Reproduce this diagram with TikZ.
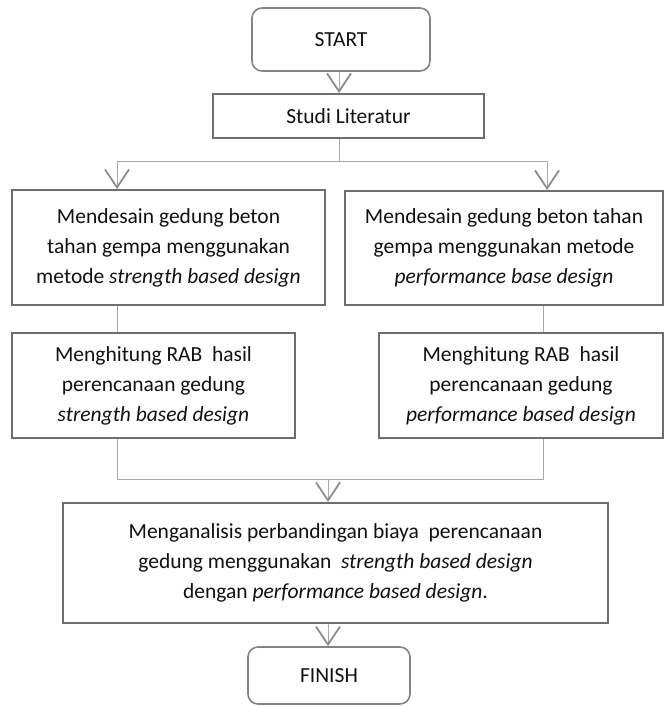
\documentclass[tikz,border=0pt]{standalone}
\usepackage{fontspec}
\setmainfont{Carlito}
\usetikzlibrary{arrows.meta}
\definecolor{boxline}{HTML}{6E6E6E}
\definecolor{conline}{HTML}{A8A8A8}
\definecolor{tipline}{HTML}{8C8C8C}
\definecolor{txt}{HTML}{111111}
\tikzset{
  box/.style={draw=boxline, line width=2pt, fill=white, inner sep=0pt, align=center,
    text=txt, font=\fontsize{21.5}{30}\selectfont},
  term/.style={box, draw=boxline!85, line width=1.6pt, rounded corners=10pt},
  conn/.style={draw=conline, line width=1pt},
  arr/.style={conn, -{Straight Barb[length=18pt,width=24pt,line width=1.8pt,color=tipline]}},
}
\begin{document}
\begin{tikzpicture}[x=1pt,y=-1pt]
\useasboundingbox (0,0) rectangle (666,706);
\node[term, minimum width=178pt, minimum height=63pt] (start) at (341,39.5) {START};
\node[box, minimum width=271pt, minimum height=44pt] (studi) at (348.5,116) {Studi Literatur};
\node[box, minimum width=313pt, minimum height=115pt] (l1) at (168.5,247.5)
  {Mendesain gedung beton\\tahan gempa menggunakan\\metode \textit{strength based design}};
\node[box, minimum width=318pt, minimum height=114pt] (r1) at (504,248)
  {Mendesain gedung beton tahan\\gempa menggunakan metode\\\textit{performance base design}};
\node[box, minimum width=283pt, minimum height=105pt] (l2) at (153.5,385.5)
  {Menghitung RAB\ \ hasil\\perencanaan gedung\\\textit{strength based design}};
\node[box, minimum width=284pt, minimum height=105pt] (r2) at (521,385.5)
  {Menghitung RAB\ \ hasil\\perencanaan gedung\\\textit{performance based design}};
\node[box, minimum width=545pt, minimum height=120pt] (ana) at (335.5,563)
  {Menganalisis perbandingan biaya\ \ perencanaan\\gedung menggunakan\ \ \textit{strength based design}\\dengan \textit{performance based design}.};
\node[term, minimum width=162pt, minimum height=57pt] (fin) at (329,675.5) {FINISH};
\coordinate (split) at (339,161);
\coordinate (merge) at (328,479);
\draw[arr] (start.south -| 339,0) -- (studi.north -| 339,0);
\draw[conn] (studi.south -| split) -- (split);
\draw[arr] (split) -| (l1.north -| 117,0);
\draw[arr] (split) -| (r1.north -| 547,0);
\draw[conn] (l1.south -| 117,0) -- (l2.north -| 117,0);
\draw[conn] (r1.south -| 543,0) -- (r2.north -| 543,0);
\draw[conn] (l2.south -| 117,0) |- (merge);
\draw[conn] (r2.south -| 543,0) |- (merge);
\draw[arr] (merge) -- (ana.north -| merge);
\draw[arr] (ana.south -| merge) -- (fin.north -| merge);
\end{tikzpicture}
\end{document}
